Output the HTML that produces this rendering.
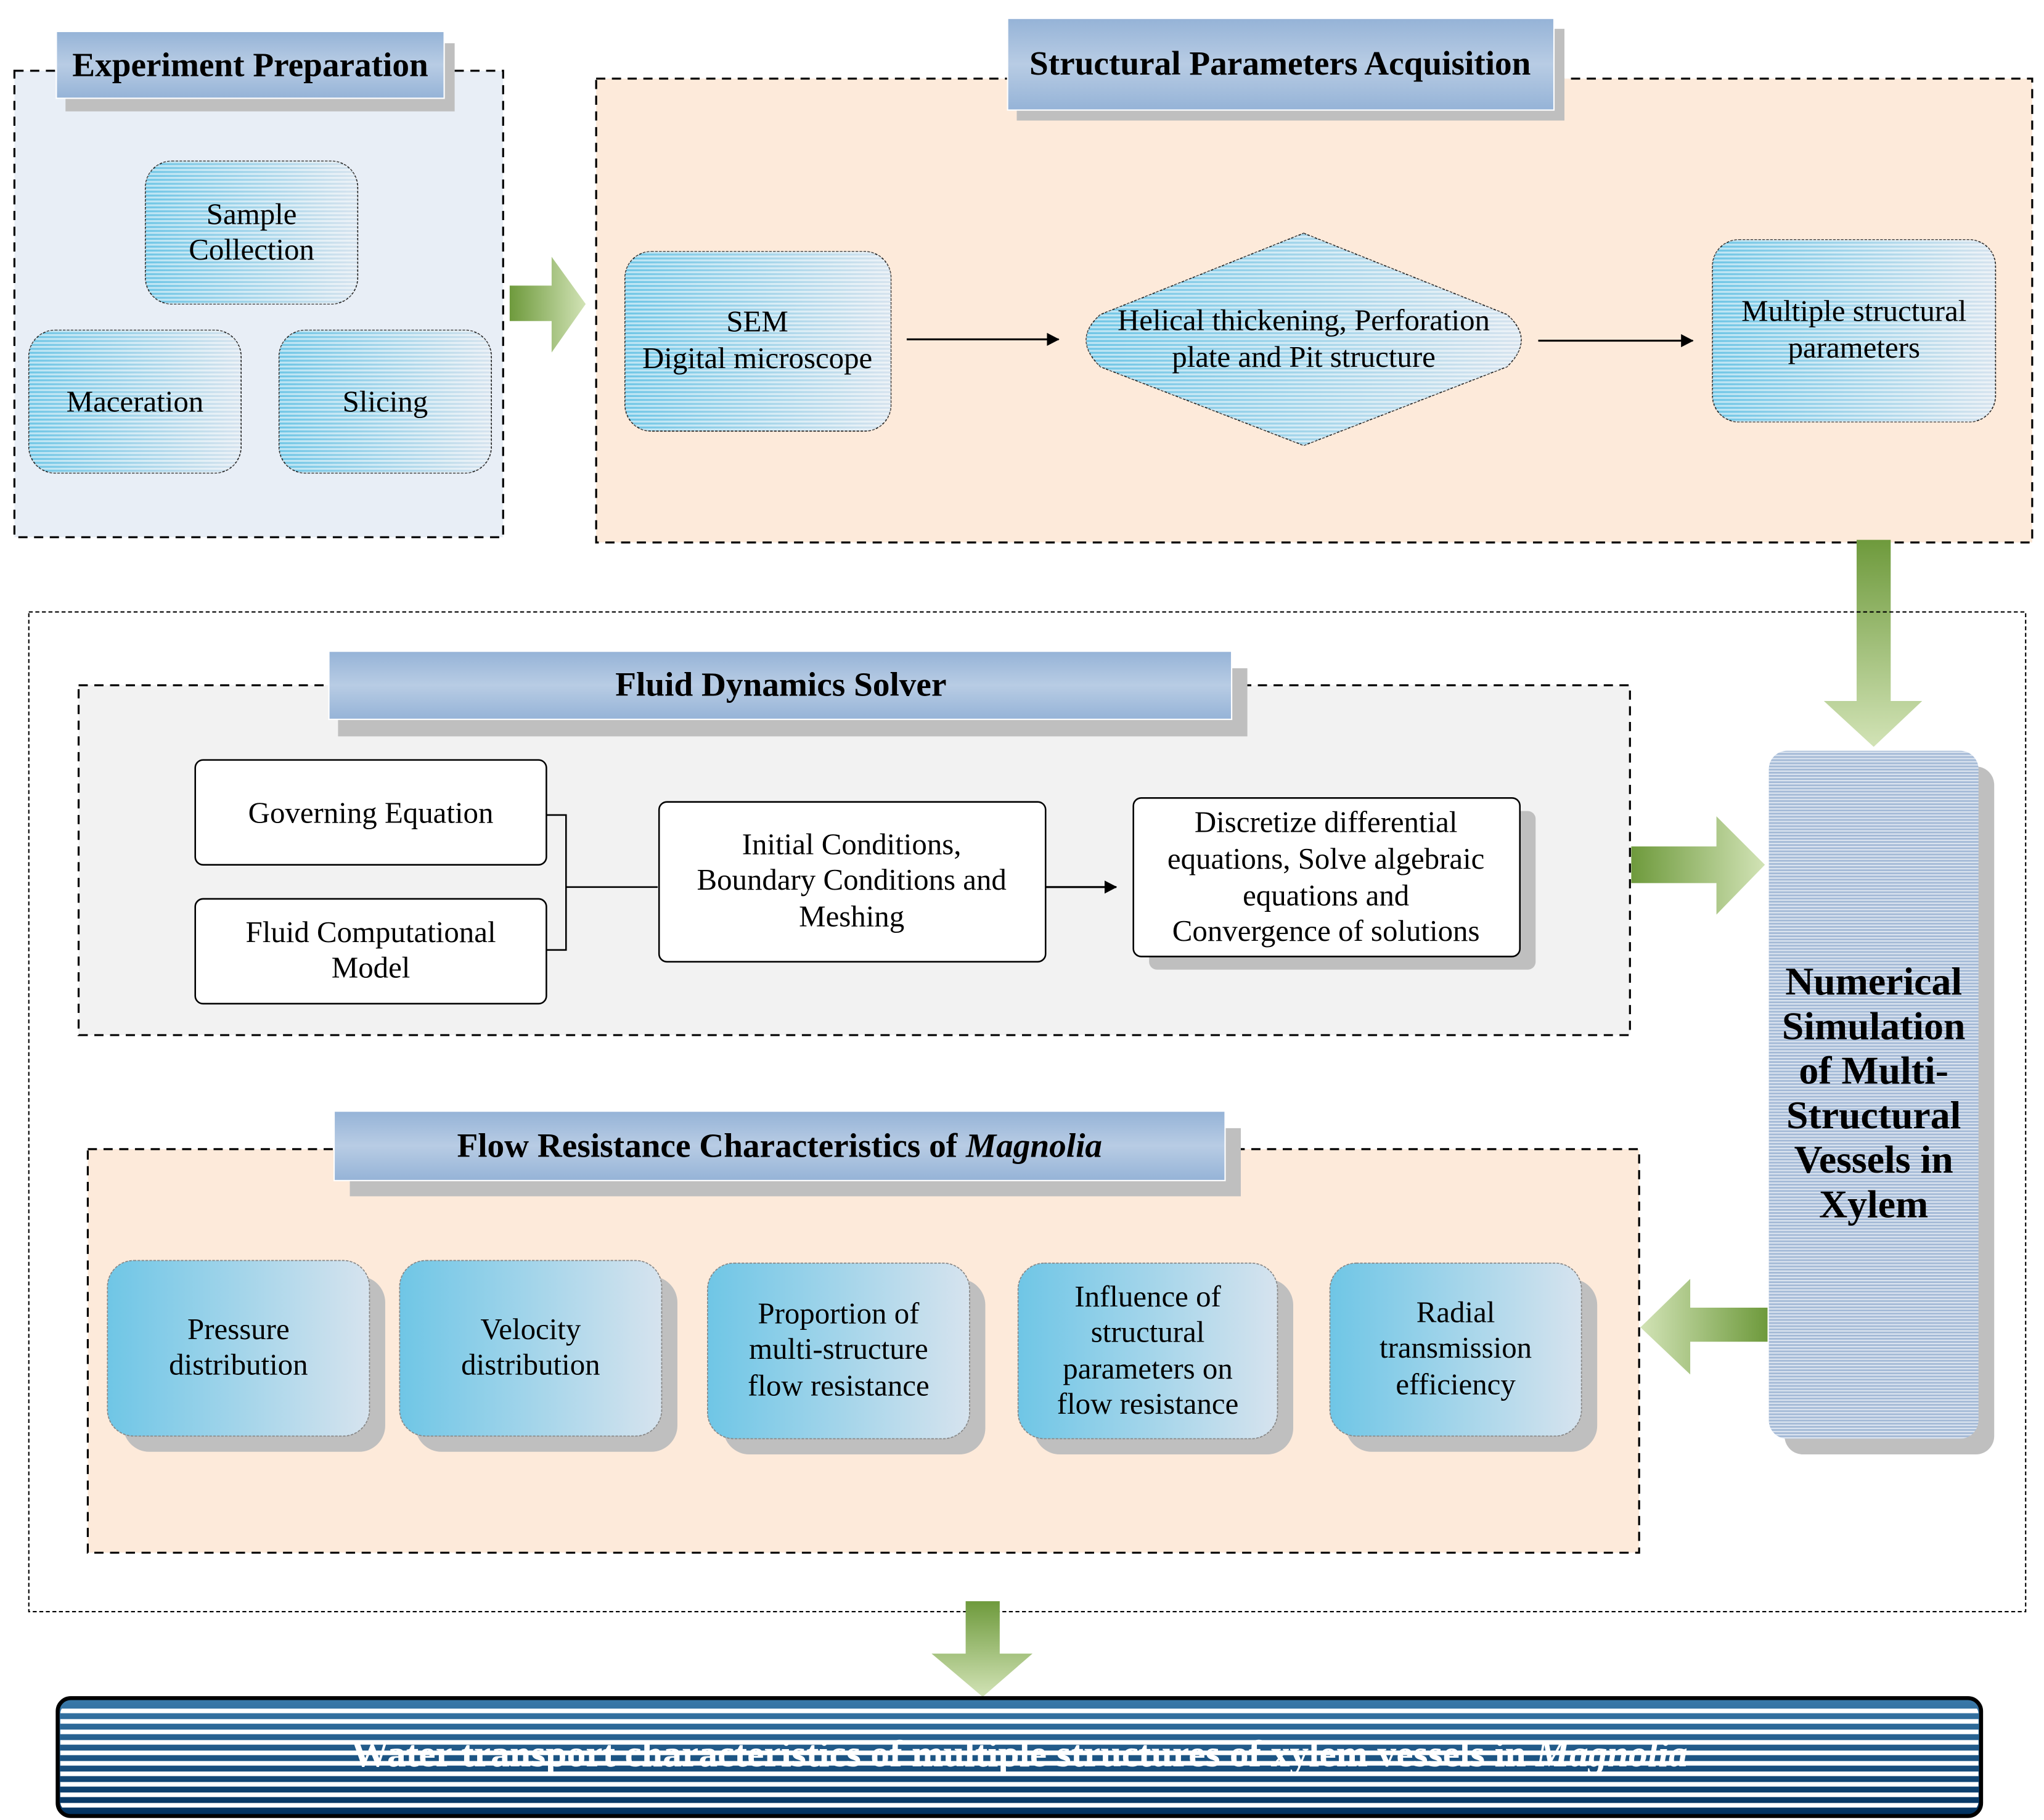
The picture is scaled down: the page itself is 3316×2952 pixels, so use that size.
<!DOCTYPE html>
<html><head><meta charset="utf-8"><style>
html,body{margin:0;padding:0;background:#fff}
svg{display:block}
text{font-family:"Liberation Serif",serif;fill:#000}
</style></head><body>
<svg width="3316" height="2952" viewBox="0 0 1560 1389" preserveAspectRatio="none" xmlns="http://www.w3.org/2000/svg">
<defs>
<linearGradient id="lb" x1="0" x2="1" y1="0" y2="0"><stop offset="0" stop-color="#6fc6e6"/><stop offset="1" stop-color="#d6e3ee"/></linearGradient>
<linearGradient id="tb" x1="0" x2="0" y1="0" y2="1"><stop offset="0" stop-color="#95b3d7"/><stop offset="0.5" stop-color="#b8cce4"/><stop offset="1" stop-color="#95b3d7"/></linearGradient>
<pattern id="st" width="4" height="3" patternUnits="userSpaceOnUse"><rect width="4" height="1.5" fill="#fff" fill-opacity="0.55"/></pattern>
<pattern id="stw" width="4" height="2.4" patternUnits="userSpaceOnUse"><rect width="4" height="1.1" fill="#fff" fill-opacity="0.6"/></pattern>
<pattern id="stb" width="4" height="8" patternUnits="userSpaceOnUse"><rect width="4" height="3.5" fill="#fff"/></pattern>
<linearGradient id="db" x1="0" x2="0" y1="0" y2="1"><stop offset="0" stop-color="#3a7aaa"/><stop offset="1" stop-color="#00305e"/></linearGradient>
<linearGradient id="gr" x1="0" x2="1" y1="0" y2="0"><stop offset="0" stop-color="#6e9a3c"/><stop offset="1" stop-color="#d2e3b6"/></linearGradient>
<linearGradient id="gl" x1="1" x2="0" y1="0" y2="0"><stop offset="0" stop-color="#6e9a3c"/><stop offset="1" stop-color="#d2e3b6"/></linearGradient>
<linearGradient id="gd" x1="0" x2="0" y1="0" y2="1"><stop offset="0" stop-color="#6e9a3c"/><stop offset="1" stop-color="#d2e3b6"/></linearGradient>
<marker id="ar" markerWidth="10" markerHeight="10" refX="9" refY="5" orient="auto" markerUnits="userSpaceOnUse"><path d="M0,0 L16,5 L0,10 z" fill="#000" transform="scale(0.6,1)"/></marker>
</defs>

<!-- Experiment Preparation -->
<rect x="11" y="54" width="373" height="356" fill="#e8eef6" stroke="#000" stroke-width="1.5" stroke-dasharray="7,5"/>
<rect x="50" y="33" width="297" height="52" fill="#bfbfbf"/>
<rect x="43" y="24" width="296" height="51" fill="url(#tb)" stroke="#fff" stroke-width="1"/>
<text x="191" y="58" font-size="26" font-weight="bold" text-anchor="middle">Experiment Preparation</text>
<g stroke="#222" stroke-width="0.8" stroke-dasharray="2,1">
<rect x="111" y="123" width="162" height="109" rx="20" fill="url(#lb)"/>
<rect x="22" y="252" width="162" height="109" rx="20" fill="url(#lb)"/>
<rect x="213" y="252" width="162" height="109" rx="20" fill="url(#lb)"/>
</g>
<rect x="111" y="123" width="162" height="109" rx="20" fill="url(#st)"/>
<rect x="22" y="252" width="162" height="109" rx="20" fill="url(#st)"/>
<rect x="213" y="252" width="162" height="109" rx="20" fill="url(#st)"/>
<text font-size="23" text-anchor="middle"><tspan x="192" y="171">Sample</tspan><tspan x="192" y="198">Collection</tspan></text>
<text x="103" y="314" font-size="23" text-anchor="middle">Maceration</text>
<text x="294" y="314" font-size="23" text-anchor="middle">Slicing</text>

<!-- arrow right -->
<path d="M389,218 H421 V196 L447,232 L421,269 V245 H389 z" fill="url(#gr)"/>

<!-- Structural -->
<rect x="455" y="60" width="1096" height="354" fill="#fdeada" stroke="#000" stroke-width="1.5" stroke-dasharray="7,5"/>
<rect x="776" y="22" width="418" height="70" fill="#bfbfbf"/>
<rect x="769" y="14" width="417" height="70" fill="url(#tb)" stroke="#fff"/>
<text x="977" y="57" font-size="26" font-weight="bold" text-anchor="middle">Structural Parameters Acquisition</text>
<g stroke="#222" stroke-width="0.8" stroke-dasharray="2,1">
<rect x="477" y="192" width="203" height="137" rx="20" fill="url(#lb)"/>
<path d="M995,178 L1150,240 Q1172,259 1150,280 L995,340 L840,280 Q818,259 840,240 z" fill="url(#lb)"/>
<rect x="1307" y="183" width="216" height="139" rx="20" fill="url(#lb)"/>
</g>
<rect x="477" y="192" width="203" height="137" rx="20" fill="url(#st)"/>
<path d="M995,178 L1150,240 Q1172,259 1150,280 L995,340 L840,280 Q818,259 840,240 z" fill="url(#st)"/>
<rect x="1307" y="183" width="216" height="139" rx="20" fill="url(#st)"/>
<text font-size="23" text-anchor="middle"><tspan x="578" y="253">SEM</tspan><tspan x="578" y="281">Digital microscope</tspan></text>
<text font-size="23" text-anchor="middle"><tspan x="995" y="252">Helical thickening, Perforation</tspan><tspan x="995" y="280">plate and Pit structure</tspan></text>
<text font-size="23" text-anchor="middle"><tspan x="1415" y="245">Multiple structural</tspan><tspan x="1415" y="273">parameters</tspan></text>
<line x1="692" y1="259" x2="808" y2="259" stroke="#000" stroke-width="1.5" marker-end="url(#ar)"/>
<line x1="1174" y1="260" x2="1292" y2="260" stroke="#000" stroke-width="1.5" marker-end="url(#ar)"/>

<!-- down arrow -->
<path d="M1417,412 H1443 V535 H1467 L1430,570 L1392,535 H1417 z" fill="url(#gd)"/>

<!-- outer dotted -->
<rect x="22" y="467" width="1524" height="763" fill="none" stroke="#000" stroke-width="1" stroke-dasharray="3,2"/>

<!-- Fluid dynamics -->
<rect x="60" y="523" width="1184" height="267" fill="#f2f2f2" stroke="#000" stroke-width="1.5" stroke-dasharray="7,5"/>
<rect x="258" y="510" width="694" height="52" fill="#bfbfbf"/>
<rect x="251" y="497" width="689" height="52" fill="url(#tb)" stroke="#fff"/>
<text x="596" y="531" font-size="26" font-weight="bold" text-anchor="middle">Fluid Dynamics Solver</text>
<g stroke="#000" stroke-width="1.2" fill="#fff">
<rect x="149" y="580" width="268" height="80" rx="6"/>
<rect x="149" y="686" width="268" height="80" rx="6"/>
<rect x="503" y="612" width="295" height="122" rx="6"/>
<rect x="877" y="619" width="295" height="121" rx="6" fill="#bfbfbf" stroke="none"/>
<rect x="865" y="609" width="295" height="121" rx="6"/>
</g>
<path d="M417,622 H432 V725 H417 M432,677 H502" fill="none" stroke="#000" stroke-width="1.2"/>
<line x1="798" y1="677" x2="852" y2="677" stroke="#000" stroke-width="1.5" marker-end="url(#ar)"/>
<text x="283" y="628" font-size="23" text-anchor="middle">Governing Equation</text>
<text font-size="23" text-anchor="middle"><tspan x="283" y="719">Fluid Computational</tspan><tspan x="283" y="746">Model</tspan></text>
<text font-size="23" text-anchor="middle"><tspan x="650" y="652">Initial Conditions,</tspan><tspan x="650" y="679">Boundary Conditions and</tspan><tspan x="650" y="707">Meshing</tspan></text>
<text font-size="23" text-anchor="middle"><tspan x="1012" y="635">Discretize differential</tspan><tspan x="1012" y="663">equations, Solve algebraic</tspan><tspan x="1012" y="691">equations and</tspan><tspan x="1012" y="718">Convergence of solutions</tspan></text>

<!-- arrow to numerical -->
<path d="M1245,646 H1310 V623 L1347,660 L1310,698 V674 H1245 z" fill="url(#gr)"/>

<!-- Numerical -->
<rect x="1362" y="585" width="160" height="525" rx="14" fill="#bfbfbf"/>
<rect x="1350" y="573" width="160" height="525" rx="14" fill="#a3b9d6"/>
<rect x="1350" y="573" width="160" height="525" rx="14" fill="url(#stw)"/>
<text font-size="30" font-weight="bold" text-anchor="middle"><tspan x="1430" y="759">Numerical</tspan><tspan x="1430" y="793">Simulation</tspan><tspan x="1430" y="827">of Multi-</tspan><tspan x="1430" y="861">Structural</tspan><tspan x="1430" y="895">Vessels in</tspan><tspan x="1430" y="929">Xylem</tspan></text>

<!-- left arrow -->
<path d="M1349,998 H1290 V976 L1252,1013 L1290,1049 V1024 H1349 z" fill="url(#gl)"/>

<!-- Flow resistance -->
<rect x="67" y="877" width="1184" height="308" fill="#fdeada" stroke="#000" stroke-width="1.5" stroke-dasharray="7,5"/>
<rect x="267" y="861" width="680" height="52" fill="#bfbfbf"/>
<rect x="255" y="848" width="680" height="53" fill="url(#tb)" stroke="#fff"/>
<text x="595" y="883" font-size="26" font-weight="bold" text-anchor="middle">Flow Resistance Characteristics of <tspan font-style="italic">Magnolia</tspan></text>
<g fill="#bfbfbf">
<rect x="94" y="974" width="200" height="134" rx="20"/>
<rect x="317" y="974" width="200" height="134" rx="20"/>
<rect x="552" y="976" width="200" height="134" rx="20"/>
<rect x="789" y="976" width="198" height="134" rx="20"/>
<rect x="1027" y="976" width="192" height="132" rx="20"/>
</g>
<g fill="url(#lb)" stroke="#888" stroke-width="0.8" stroke-dasharray="2,1">
<rect x="82" y="962" width="200" height="134" rx="20"/>
<rect x="305" y="962" width="200" height="134" rx="20"/>
<rect x="540" y="964" width="200" height="134" rx="20"/>
<rect x="777" y="964" width="198" height="134" rx="20"/>
<rect x="1015" y="964" width="192" height="132" rx="20"/>
</g>
<text font-size="23" text-anchor="middle"><tspan x="182" y="1022">Pressure</tspan><tspan x="182" y="1049">distribution</tspan></text>
<text font-size="23" text-anchor="middle"><tspan x="405" y="1022">Velocity</tspan><tspan x="405" y="1049">distribution</tspan></text>
<text font-size="23" text-anchor="middle"><tspan x="640" y="1010">Proportion of</tspan><tspan x="640" y="1037">multi-structure</tspan><tspan x="640" y="1065">flow resistance</tspan></text>
<text font-size="23" text-anchor="middle"><tspan x="876" y="997">Influence of</tspan><tspan x="876" y="1024">structural</tspan><tspan x="876" y="1052">parameters on</tspan><tspan x="876" y="1079">flow resistance</tspan></text>
<text font-size="23" text-anchor="middle"><tspan x="1111" y="1009">Radial</tspan><tspan x="1111" y="1036">transmission</tspan><tspan x="1111" y="1064">efficiency</tspan></text>

<!-- bottom arrow -->
<path d="M737,1222 H763 V1262 H788 L750,1295 L711,1262 H737 z" fill="url(#gd)"/>

<!-- bottom banner -->
<rect x="44" y="1296" width="1468" height="90" rx="10" fill="url(#db)" stroke="#000" stroke-width="3"/>
<rect x="46" y="1300" width="1464" height="83" rx="8" fill="url(#stb)"/>
<text x="778" y="1348" font-size="29" font-weight="bold" text-anchor="middle" style="fill:#fff">Water transport characteristics of multiple structures of xylem vessels in <tspan font-style="italic">Magnolia</tspan></text>
</svg>
</body></html>
